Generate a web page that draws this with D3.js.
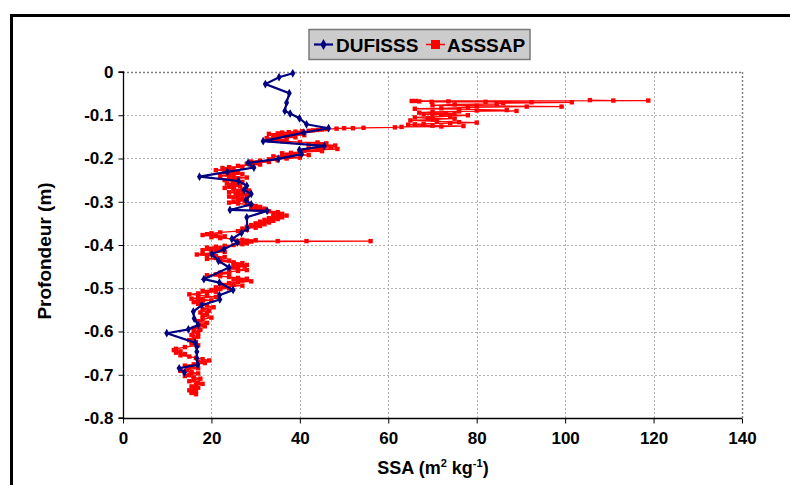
<!DOCTYPE html>
<html><head><meta charset="utf-8">
<script src="https://cdn.jsdelivr.net/npm/d3@7"></script>
<style>
html,body{margin:0;padding:0;background:#fff;}
svg text{font-family:"Liberation Sans",Arial,sans-serif;font-weight:bold;fill:#000;}
</style></head>
<body>
<svg id="c" width="790" height="485"></svg>
<script>
// ---- data ----
const xTicks = [0,20,40,60,80,100,120,140];
const yTicks = [0,-0.1,-0.2,-0.3,-0.4,-0.5,-0.6,-0.7,-0.8];
const seriesNames = ["DUFISSS","ASSSAP"];

const dufDepth = [-0.003,-0.012,-0.028,-0.049,-0.071,-0.090,-0.096,-0.107,-0.121,-0.130,-0.140,-0.160,-0.171,-0.180,-0.190,-0.201,-0.210,-0.221,-0.231,-0.242,-0.252,-0.263,-0.273,-0.282,-0.296,-0.306,-0.319,-0.321,-0.336,-0.362,-0.372,-0.386,-0.394,-0.410,-0.421,-0.437,-0.452,-0.479,-0.487,-0.504,-0.516,-0.526,-0.539,-0.554,-0.570,-0.585,-0.595,-0.604,-0.626,-0.635,-0.647,-0.662,-0.677,-0.685,-0.695];
const dufSSA   = [38.4,35.3,32.2,37.6,37.0,36.6,37.8,39.9,41.5,46.5,40.9,31.7,45.5,39.9,40.4,35.1,28.3,29.6,23.6,17.3,26.1,28.0,27.4,29.0,27.8,29.0,24.2,32.6,28.0,28.1,26.8,24.6,25.9,22.8,20.1,21.6,24.0,18.3,21.8,24.9,21.8,21.9,17.8,15.9,16.1,17.0,14.8,9.9,16.3,16.7,16.7,16.7,16.9,12.7,13.9];

const assDepth = [-0.065,-0.066,-0.066,-0.067,-0.067,-0.068,-0.068,-0.069,-0.069,-0.070,-0.070,-0.072,-0.074,-0.075,-0.077,-0.078,-0.080,-0.080,-0.082,-0.084,-0.085,-0.086,-0.088,-0.089,-0.090,-0.091,-0.092,-0.094,-0.095,-0.096,-0.098,-0.099,-0.100,-0.102,-0.104,-0.105,-0.107,-0.108,-0.110,-0.112,-0.114,-0.116,-0.117,-0.118,-0.120,-0.121,-0.122,-0.124,-0.125,-0.126,-0.127,-0.128,-0.129,-0.130,-0.130,-0.131,-0.132,-0.133,-0.134,-0.135,-0.136,-0.137,-0.138,-0.139,-0.140,-0.141,-0.142,-0.143,-0.145,-0.146,-0.147,-0.148,-0.150,-0.151,-0.152,-0.153,-0.155,-0.157,-0.158,-0.160,-0.162,-0.163,-0.165,-0.167,-0.168,-0.170,-0.172,-0.173,-0.175,-0.177,-0.178,-0.180,-0.182,-0.183,-0.185,-0.187,-0.188,-0.190,-0.192,-0.193,-0.195,-0.196,-0.198,-0.200,-0.202,-0.204,-0.205,-0.207,-0.208,-0.210,-0.212,-0.214,-0.215,-0.217,-0.219,-0.220,-0.222,-0.224,-0.225,-0.227,-0.229,-0.230,-0.232,-0.234,-0.236,-0.238,-0.240,-0.242,-0.244,-0.246,-0.248,-0.250,-0.252,-0.254,-0.256,-0.258,-0.260,-0.262,-0.264,-0.266,-0.268,-0.270,-0.272,-0.274,-0.276,-0.278,-0.280,-0.282,-0.284,-0.286,-0.288,-0.290,-0.292,-0.294,-0.296,-0.298,-0.300,-0.302,-0.304,-0.306,-0.308,-0.310,-0.312,-0.314,-0.316,-0.318,-0.320,-0.322,-0.324,-0.326,-0.328,-0.330,-0.332,-0.334,-0.336,-0.338,-0.340,-0.342,-0.344,-0.346,-0.348,-0.350,-0.352,-0.354,-0.356,-0.358,-0.360,-0.362,-0.365,-0.368,-0.371,-0.373,-0.375,-0.377,-0.378,-0.380,-0.382,-0.384,-0.386,-0.388,-0.389,-0.390,-0.391,-0.391,-0.391,-0.392,-0.394,-0.396,-0.398,-0.400,-0.402,-0.404,-0.406,-0.408,-0.410,-0.412,-0.414,-0.416,-0.418,-0.420,-0.422,-0.424,-0.426,-0.428,-0.430,-0.432,-0.434,-0.436,-0.438,-0.440,-0.442,-0.444,-0.446,-0.448,-0.450,-0.452,-0.454,-0.456,-0.458,-0.460,-0.462,-0.464,-0.466,-0.468,-0.470,-0.472,-0.474,-0.476,-0.478,-0.480,-0.482,-0.484,-0.486,-0.488,-0.490,-0.492,-0.494,-0.496,-0.498,-0.500,-0.502,-0.504,-0.506,-0.508,-0.510,-0.512,-0.514,-0.516,-0.518,-0.520,-0.522,-0.524,-0.526,-0.528,-0.530,-0.532,-0.534,-0.536,-0.540,-0.544,-0.548,-0.552,-0.556,-0.560,-0.564,-0.568,-0.572,-0.576,-0.580,-0.584,-0.588,-0.592,-0.596,-0.600,-0.604,-0.608,-0.612,-0.616,-0.620,-0.624,-0.628,-0.632,-0.636,-0.640,-0.643,-0.646,-0.649,-0.652,-0.655,-0.658,-0.661,-0.664,-0.667,-0.670,-0.673,-0.676,-0.679,-0.682,-0.685,-0.688,-0.691,-0.694,-0.697,-0.700,-0.703,-0.706,-0.709,-0.712,-0.715,-0.718,-0.721,-0.724,-0.727,-0.730,-0.733,-0.736,-0.739,-0.742,-0.745];
const assSSA = [105.6,110.9,118.8,65.3,66.2,67.0,73.6,69.8,82,92.4,101.5,86,84.5,75,70,80,99.2,91.3,78,72,66,76,86.8,80,89,76,70,67,73,75,68,72,78,74,70,66,69,75,70,65,71,76,80,74,68,66,64.5,70,77,72,63,61.5,54.4,52,50,48.3,46,45,44,43,42,40.5,39,37.5,36,40,35,33,38,41,36,34,37,39,35,32.5,34,37,33,36,40,44,46,42,45,48,44,47,45,42,48.5,44,41,45,40,38,36,39,42,37,34,36,40,37,33,35,31,29,33,30,28,31,29,26,27,24,22.5,25,23,21,24,26,23,25,27,24,22,25,28,26,24,23,25,27,25,23.5,26,24,26.5,25,23,25,27,28.5,26,24,25.5,27,28,26,24,25,27,28,26,27.5,25,24,26,28,29,30,31,29,32,30,31.5,33,35,34,36,35,37,34,36,33,35,32,34,31,33,30,32,29,31,28,30,27,28,26,22,20,19,18,21,23,20,22,25,27,30,28,35,41.5,56,29,26,28,27,25,23,21,19,22,20,18,21,23,20,18,16.7,19,21,23,21,19,22,24,22,25,27,25,28,26,27.5,25,24,26,28,26,24,22,24,21,19,22,24,26,28,25,27,29,26,24,22,25,27,23,21,24,22,20,18,21,19,17,15,17,19,21,17,15.5,18,20,17,16,18,17,19,20.5,18,19.5,17.5,19,18,20,18,17,19,17.5,18.5,16,17.5,16,17,15.5,17,16,15,16.5,15.5,17,14,12,11.5,13,12,14,13,15,16.5,18,19.5,17,18.5,16,14,15,17,14.5,13,15.5,17,15,14,16,17.5,16,15,17,18,16.5,15.5,17,16,15,16.5,15.5,16.5];

// ---- chart ----
const svg = d3.select("#c");
const plot = {l:123, r:742, t:72, b:418};
const x = d3.scaleLinear().domain([0,140]).range([plot.l, plot.r]);
const y = d3.scaleLinear().domain([-0.8,0]).range([plot.b, plot.t]);

// outer frame
svg.append("rect").attr("x",11.5).attr("y",15.5).attr("width",800).attr("height",500)
  .attr("fill","#fff").attr("stroke","#000").attr("stroke-width",3);

// gridlines
const grid = svg.append("g");
grid.selectAll(".gx").data(xTicks.filter(d=>d>0)).join("line")
  .attr("x1",d=>Math.round(x(d))+0.5).attr("x2",d=>Math.round(x(d))+0.5)
  .attr("y1",plot.t).attr("y2",plot.b)
  .attr("stroke",d=>d===140?"#808080":"#b0b0b0").attr("stroke-width",d=>d===140?1.5:1)
  .attr("stroke-dasharray","2,2");
grid.selectAll(".gy").data(yTicks.filter(d=>d>-0.8)).join("line")
  .attr("y1",d=>Math.round(y(d))+0.5).attr("y2",d=>Math.round(y(d))+0.5)
  .attr("x1",plot.l).attr("x2",plot.r)
  .attr("stroke",d=>d===0?"#808080":"#b0b0b0").attr("stroke-width",d=>d===0?1.5:1)
  .attr("stroke-dasharray","2,2");

// axes
const fmtY = d => d===0 ? "0" : d.toFixed(1);
const yAxis = d3.axisLeft(y).tickValues(yTicks).tickFormat(fmtY).tickSize(5).tickPadding(5);
const xAxis = d3.axisBottom(x).tickValues(xTicks).tickFormat(d3.format("d")).tickSize(5).tickPadding(8);
const gy = svg.append("g").attr("transform",`translate(${plot.l+0.5},0)`).call(yAxis);
const gx = svg.append("g").attr("transform",`translate(0,${plot.b+0.5})`).call(xAxis);
[gx,gy].forEach(g=>{
  g.select(".domain").attr("stroke","#000").attr("stroke-width",1.3);
  g.selectAll(".tick line").attr("stroke","#000");
  g.selectAll(".tick text").style("font-size","17px").attr("fill","#000");
});
gy.select(".domain").attr("d",`M-5,${plot.b}H0V${plot.t}H-5`);
gx.select(".domain").attr("d",`M${plot.l},0H${plot.r}`);

// series: ASSSAP (red)
const assData = assDepth.map((d,i)=>({x:assSSA[i], y:d}));
const dufData = dufDepth.map((d,i)=>({x:dufSSA[i], y:d}));
const line = d3.line().x(d=>x(d.x)).y(d=>y(d.y));

svg.append("path").datum(assData).attr("d",line)
  .attr("fill","none").attr("stroke","#ff0000").attr("stroke-width",1.3);
svg.append("g").selectAll("rect").data(assData).join("rect")
  .attr("x",d=>x(d.x)-2.2).attr("y",d=>y(d.y)-2.2).attr("width",4.4).attr("height",4.4)
  .attr("fill","#ff0000");

// series: DUFISSS (navy)
svg.append("path").datum(dufData).attr("d",line)
  .attr("fill","none").attr("stroke","#000080").attr("stroke-width",2.2);
const diamond = d3.symbol().type(d3.symbolDiamond).size(22);
svg.append("g").selectAll("path").data(dufData).join("path")
  .attr("d",diamond).attr("transform",d=>`translate(${x(d.x)},${y(d.y)})`)
  .attr("fill","#000080");

// axis titles
svg.append("text").attr("x",433).attr("y",474).attr("text-anchor","middle")
  .style("font-size","18px")
  .html('SSA (m<tspan font-size="11px" dy="-7">2</tspan><tspan dy="7"> kg</tspan><tspan font-size="11px" dy="-7">-1</tspan><tspan dy="7">)</tspan>');
svg.append("text").attr("transform","translate(51,251) rotate(-90)").attr("text-anchor","middle")
  .style("font-size","19px").text("Profondeur (m)");

// legend
const lg = svg.append("g");
lg.append("rect").attr("x",309).attr("y",29.5).attr("width",221).attr("height",30)
  .attr("fill","#cccccc").attr("stroke","#7a7a7a").attr("stroke-width",1.5);
lg.append("line").attr("x1",314).attr("x2",333).attr("y1",44.5).attr("y2",44.5)
  .attr("stroke","#000080").attr("stroke-width",2.2);
lg.append("path").attr("d",d3.symbol().type(d3.symbolDiamond).size(34))
  .attr("transform","translate(323.5,44.5)").attr("fill","#000080");
lg.append("text").attr("x",336).attr("y",51.5).style("font-size","19px").text(seriesNames[0]);
lg.append("line").attr("x1",426).attr("x2",445).attr("y1",44.5).attr("y2",44.5)
  .attr("stroke","#ff0000").attr("stroke-width",1.5);
lg.append("rect").attr("x",431).attr("y",40).attr("width",9).attr("height",9).attr("fill","#ff0000");
lg.append("text").attr("x",447).attr("y",51.5).style("font-size","19px").text(seriesNames[1]);
</script>
</body></html>
